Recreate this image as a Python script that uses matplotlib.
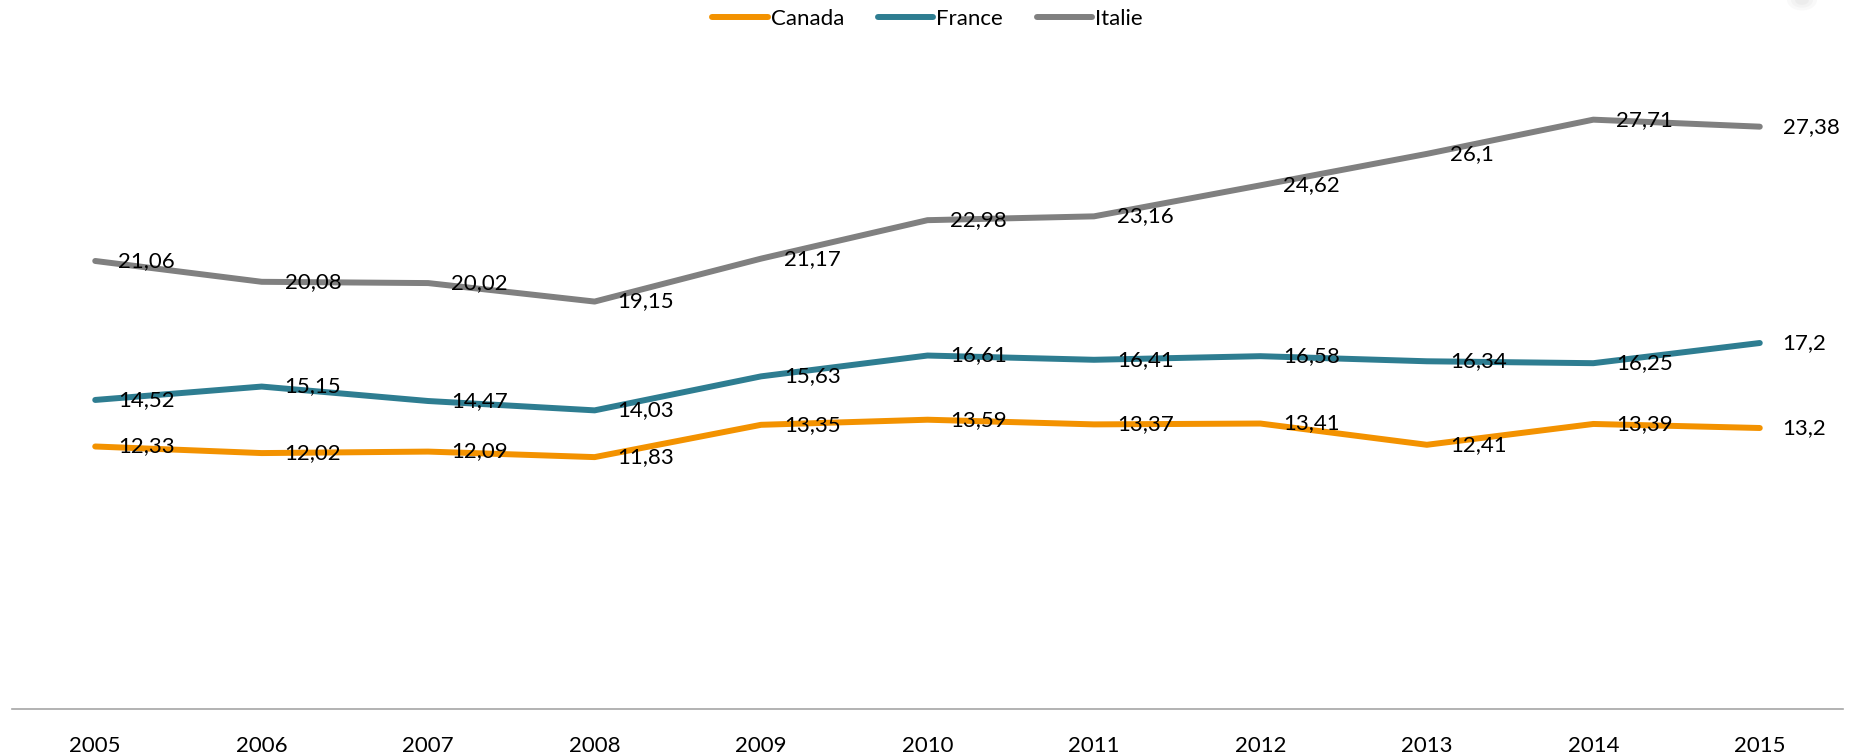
import matplotlib.pyplot as plt
from matplotlib.patches import Ellipse

plt.rcParams['font.family'] = ['Lato', 'DejaVu Sans']

# Data
annees = ['2005', '2006', '2007', '2008', '2009', '2010', '2011', '2012', '2013', '2014', '2015']
canada = [12.33, 12.02, 12.09, 11.83, 13.35, 13.59, 13.37, 13.41, 12.41, 13.39, 13.2]
france = [14.52, 15.15, 14.47, 14.03, 15.63, 16.61, 16.41, 16.58, 16.34, 16.25, 17.2]
italie = [21.06, 20.08, 20.02, 19.15, 21.17, 22.98, 23.16, 24.62, 26.1, 27.71, 27.38]

series = [('Canada', canada, '#F39200'),
          ('France', france, '#2E7D91'),
          ('Italie', italie, '#808080')]

fig = plt.figure(figsize=(18.55, 7.55), dpi=100)
ax = fig.add_axes([12/1855, 46.5/755, 1831/1855, 637.5/755])

x = list(range(len(annees)))
for nom, vals, col in series:
    ax.plot(x, vals, color=col, lw=4.3, solid_capstyle='round', solid_joinstyle='round', label=nom, zorder=2)
    for xi, v in zip(x, vals):
        lab = ('%g' % v).replace('.', ',')
        ax.annotate(lab, (xi, v), xytext=(16.5, 0), textcoords='offset points',
                    ha='left', va='center', fontsize=16, color='black', zorder=3)

ax.set_xlim(-0.5, len(annees) - 0.5)
ax.set_ylim(0, 30)
ax.set_xticks(x)
ax.set_xticklabels(annees, fontsize=16)
ax.tick_params(axis='x', length=0, pad=20)
ax.set_yticks([])
for s in ['top', 'left', 'right']:
    ax.spines[s].set_visible(False)
ax.spines['bottom'].set_color('#A6A6A6')
ax.spines['bottom'].set_linewidth(1.2)

leg = fig.legend(loc='center', bbox_to_anchor=(0.5, 1 - 19/755), ncol=3, frameon=False,
                 fontsize=16, handlelength=2.5, handletextpad=0.15, columnspacing=1.5)

# faint shadow blob in the top-right corner
for w, a in [(30, 0.05), (22, 0.06), (14, 0.07)]:
    fig.patches.append(Ellipse((1802/1855, 1.0), w/1855, (w*0.7)/755, transform=fig.transFigure,
                               facecolor='#999999', edgecolor='none', alpha=a))

fig.savefig('out.png', dpi=100)
